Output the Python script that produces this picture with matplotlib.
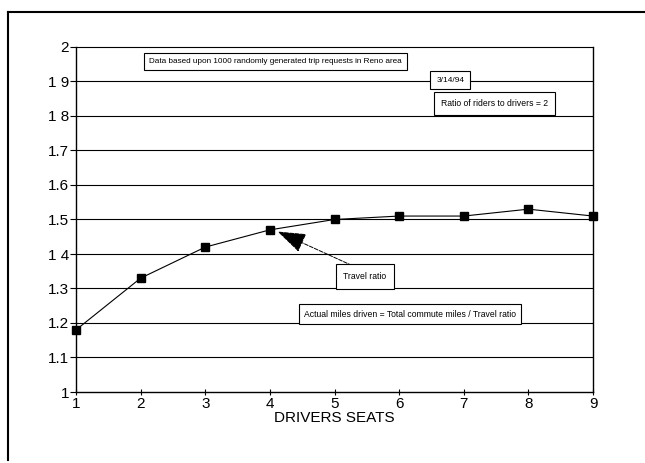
import matplotlib.pyplot as plt
import numpy as np

plt.rcParams['font.family'] = ['Liberation Sans', 'DejaVu Sans']

seats = [1, 2, 3, 4, 5, 6, 7, 8, 9]
travel_ratio = [1.18, 1.33, 1.42, 1.47, 1.50, 1.51, 1.51, 1.53, 1.51]
yticks = [1, 1.1, 1.2, 1.3, 1.4, 1.5, 1.6, 1.7, 1.8, 1.9, 2]
ylabels = ['1', '1.1', '1.2', '1.3', '1 4', '1.5', '1.6', '1.7', '1 8', '1 9', '2']

fig = plt.figure(figsize=(6.45, 4.63), dpi=100)
ax = fig.add_axes([76/645, 1 - 392/463, (593-76)/645, (392-47)/463])

for yv in yticks[1:-1]:
    ax.axhline(yv, color='black', lw=0.8, zorder=1)

ax.plot(seats, travel_ratio, color='black', lw=0.8, marker='s', ms=6,
        mfc='black', mec='black', zorder=3, clip_on=False)

ax.set_xlim(1, 9)
ax.set_ylim(1, 2)
ax.set_xticks(seats)
ax.set_yticks(yticks)
ax.set_yticklabels(ylabels)
ax.tick_params(axis='both', labelsize=11, length=4, width=0.8, pad=1)
ax.tick_params(axis='x', direction='inout', length=5)
for s in ax.spines.values():
    s.set_linewidth(1)
ax.spines['top'].set_linewidth(0.8)
ax.set_xlabel('DRIVERS SEATS', fontsize=11, labelpad=0)

box = dict(boxstyle='square,pad=0.6', fc='white', ec='black', lw=0.8)
ax.text(4.09, 1.959, 'Data based upon 1000 randomly generated trip requests in Reno area',
        fontsize=5.9, ha='center', va='center', bbox=box, zorder=5)
ax.text(6.79, 1.904, '3/14/94', fontsize=6, ha='center', va='center',
        bbox=dict(boxstyle='square,pad=0.7', fc='white', ec='black', lw=0.8), zorder=6)
ax.text(7.48, 1.836, 'Ratio of riders to drivers = 2', fontsize=6.2, ha='center',
        va='center', bbox=dict(boxstyle='square,pad=0.8', fc='white', ec='black', lw=0.8), zorder=5)
ax.text(6.17, 1.226, 'Actual miles driven = Total commute miles / Travel ratio',
        fontsize=6.2, ha='center', va='center', bbox=box, zorder=5)

ax.text(5.47, 1.335, 'Travel ratio', fontsize=6.2, ha='center', va='center',
        bbox=dict(boxstyle='square,pad=0.9', fc='white', ec='black', lw=0.8), zorder=5)
ax.annotate('', xy=(4.12, 1.465), xytext=(5.42, 1.354),
            arrowprops=dict(arrowstyle='-|>,head_length=1.0,head_width=0.35',
                            color='black', lw=0.7, linestyle=(0, (4, 1.5)),
                            mutation_scale=18, shrinkA=0, shrinkB=0), zorder=4)

# outer frame (left and top edges)
fig.add_artist(plt.Line2D([8/645, 8/645], [1 - 460/463, 1 - 12/463], color='black', lw=1.5))
fig.add_artist(plt.Line2D([8/645, 645/645], [1 - 12/463, 1 - 12/463], color='black', lw=1.5))

fig.savefig('out.png', dpi=100)
